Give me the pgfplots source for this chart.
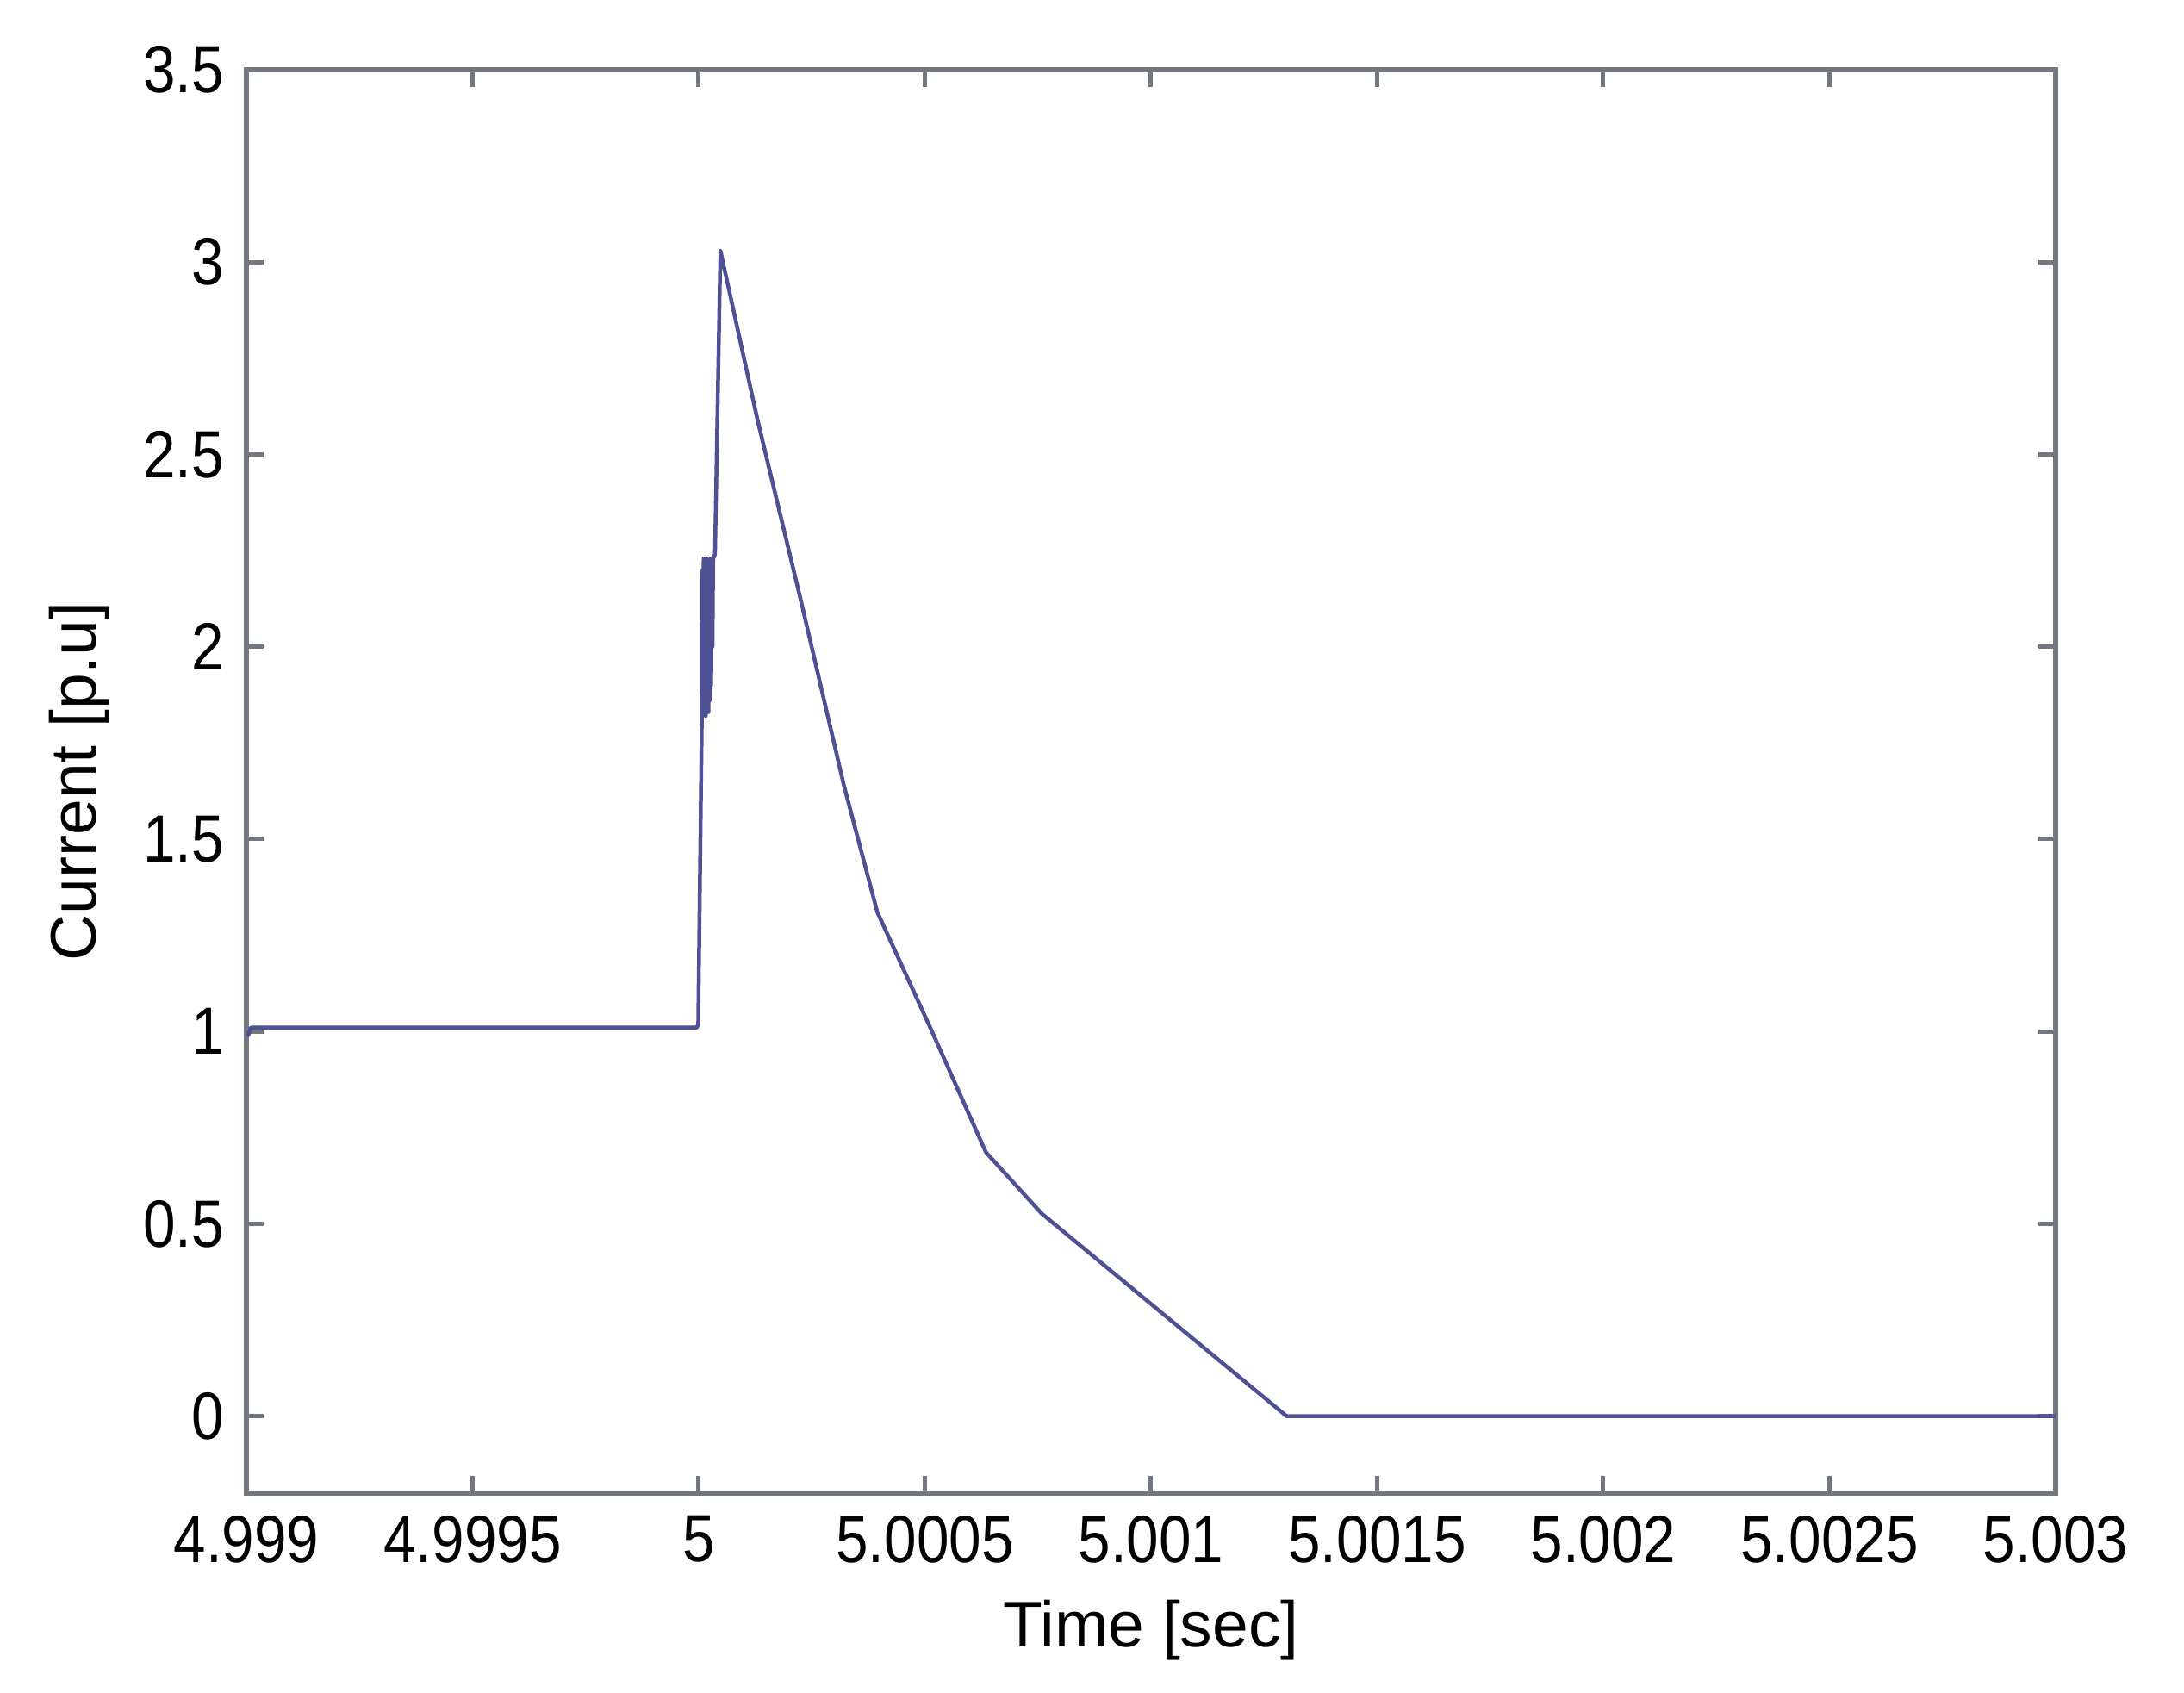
\documentclass[border=0pt]{standalone}
\usepackage{pgfplots}
\pgfplotsset{compat=1.18}
\usepackage{fontspec}
\setmainfont{Liberation Sans}
\newfontfamily\tickfont[FakeStretch=0.87]{Liberation Sans}
\definecolor{linec}{RGB}{78,82,148}
\definecolor{axc}{RGB}{115,119,126}
\begin{document}
\fontsize{15pt}{18pt}\selectfont
\begin{tikzpicture}
\useasboundingbox (-57.2pt,-46.4pt) rectangle (449.8pt,346.6pt);
\begin{axis}[
  at={(0,0)}, anchor=south west,
  scale only axis, width=420pt, height=330.4pt,
  xmin=-1000, xmax=3000, ymin=-0.2, ymax=3.5,
  xtick={-1000,-500,0,500,1000,1500,2000,2500,3000},
  xticklabels={4.999,4.9995,5,5.0005,5.001,5.0015,5.002,5.0025,5.003},
  ytick={0,0.5,1,1.5,2,2.5,3,3.5},
  yticklabels={0,0.5,1,1.5,2,2.5,3,3.5},
  tick align=inside, major tick length=4pt,
  xtick pos=both, ytick pos=both,
  axis line style={axc, line width=1.1pt},
  tick style={axc, line width=1pt},
  ticklabel style={font=\tickfont\fontsize{15.5pt}{18pt}\selectfont},
  label style={font=\fontsize{15pt}{18pt}\selectfont},
  xlabel={Time [sec]}, ylabel={Current [p.u]},
  x label style={at={(axis description cs:0.5,-0.0963)}, anchor=center},
  y label style={at={(axis description cs:-0.0924,0.5)}, anchor=center},
]
\addplot[linec, line width=0.9pt, line join=round] coordinates {
(-1000,1.00) (-996,0.99) (-990,1.01) (-4,1.01) (-1,1.02) (7,1.82)
(8,2.20) (9.5,1.84) (11,2.23) (12.5,1.83) (14,2.22) (15.5,1.82)
(17,2.23) (18.5,1.85) (20,2.22) (21.5,1.83) (23,2.21) (24.5,1.86)
(26,2.23) (27.5,1.90) (29,2.22) (30.5,2.00) (32,2.23)
(36,2.24) (48,3.03) (130,2.59) (226,2.12) (321,1.64) (395,1.31)
(512,1.01) (635,0.686) (758,0.527) (1300,0.0) (3000,0.0)
};
\end{axis}
\end{tikzpicture}
\end{document}
